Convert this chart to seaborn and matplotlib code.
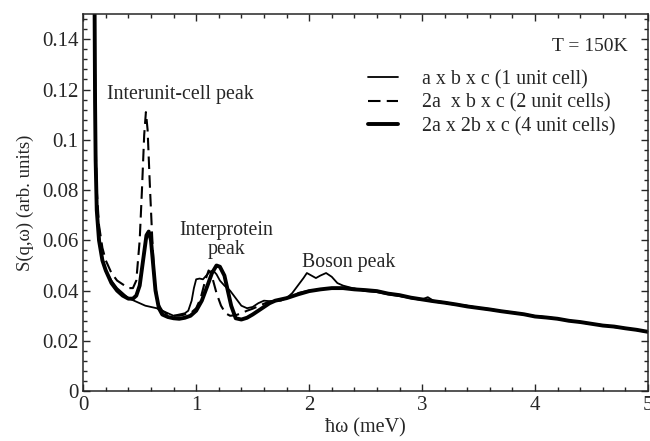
import numpy as np
import pandas as pd
import matplotlib.pyplot as plt
import matplotlib.ticker as mticker
import seaborn as sns

# shared high-energy tail
tail_x = [3.2, 3.3, 3.4, 3.5, 3.6, 3.7, 3.8, 3.9, 4.0, 4.1, 4.2, 4.3, 4.4, 4.5, 4.6, 4.7, 4.8, 4.9, 5.0]

# a x b x c (1 unit cell) - thin solid
one_x = [0.10, 0.105, 0.11, 0.12, 0.14, 0.17, 0.20, 0.25, 0.30, 0.35, 0.40, 0.45, 0.50, 0.55,
         0.60, 0.65, 0.70, 0.75, 0.80, 0.85, 0.90, 0.93, 0.96, 0.98, 1.00, 1.03, 1.06, 1.09,
         1.12, 1.15, 1.18, 1.21, 1.25, 1.30, 1.35, 1.40, 1.45, 1.50, 1.55, 1.60, 1.65, 1.70,
         1.75, 1.80, 1.85, 1.90, 1.95, 1.98, 2.02, 2.06, 2.10, 2.15, 2.20, 2.25, 2.30, 2.40,
         2.50, 2.60, 2.70, 2.80, 2.90, 3.00, 3.05, 3.10] + tail_x
one_y = [0.16, 0.12, 0.095, 0.075, 0.062, 0.053, 0.048, 0.044, 0.041, 0.039, 0.037, 0.036,
         0.035, 0.034, 0.0335, 0.033, 0.032, 0.031, 0.030, 0.0305, 0.031, 0.032, 0.036,
         0.041, 0.0445, 0.0448, 0.0445, 0.046, 0.0475, 0.048, 0.0465, 0.044, 0.042, 0.040,
         0.037, 0.034, 0.033, 0.0335, 0.035, 0.036, 0.0358, 0.0358, 0.036, 0.037, 0.039,
         0.042, 0.045, 0.047, 0.046, 0.045, 0.046, 0.047, 0.0455, 0.043, 0.042, 0.0408,
         0.0398, 0.0394, 0.0385, 0.0378, 0.0370, 0.0365, 0.0374, 0.0360,
         0.0354, 0.0346, 0.0340, 0.0332, 0.0327, 0.0319, 0.0314, 0.0307, 0.0299, 0.0295,
         0.0289, 0.0281, 0.0276, 0.0268, 0.0263, 0.0257, 0.0251, 0.0245, 0.0236]

# 2a x b x c (2 unit cells) - dashed
two_x = [0.10, 0.105, 0.11, 0.12, 0.14, 0.17, 0.20, 0.25, 0.30, 0.35, 0.40, 0.44, 0.47, 0.50,
         0.52, 0.54, 0.555, 0.57, 0.59, 0.61, 0.63, 0.66, 0.70, 0.75, 0.80, 0.85, 0.90, 0.95,
         1.00, 1.04, 1.08, 1.11, 1.13, 1.15, 1.18, 1.22, 1.26, 1.30, 1.35, 1.40, 1.45, 1.50,
         1.55, 1.60, 1.65, 1.70, 1.80, 1.90, 2.00, 2.10, 2.20, 2.30, 2.40, 2.50, 2.60, 2.70,
         2.80, 2.90, 3.00, 3.10] + tail_x
two_y = [0.16, 0.125, 0.10, 0.080, 0.066, 0.057, 0.052, 0.047, 0.044, 0.0425, 0.041, 0.041,
         0.044, 0.060, 0.080, 0.102, 0.111, 0.104, 0.082, 0.062, 0.045, 0.035, 0.032, 0.0305,
         0.030, 0.030, 0.0305, 0.031, 0.033, 0.037, 0.044, 0.048, 0.047, 0.044, 0.039, 0.034,
         0.031, 0.030, 0.0302, 0.031, 0.032, 0.0328, 0.0338, 0.0348, 0.0356, 0.036, 0.037,
         0.039, 0.040, 0.0405, 0.041, 0.0408, 0.0408, 0.0400, 0.0398, 0.0390, 0.0380,
         0.0370, 0.0363, 0.0357,
         0.0350, 0.0344, 0.0339, 0.0330, 0.0324, 0.0318, 0.0312, 0.0305, 0.0300, 0.0293,
         0.0287, 0.0281, 0.0274, 0.0267, 0.0262, 0.0255, 0.0250, 0.0243, 0.0235]

# 2a x 2b x c (4 unit cells) - thick solid
four_x = [0.10, 0.105, 0.11, 0.12, 0.14, 0.17, 0.20, 0.25, 0.30, 0.35, 0.40, 0.44, 0.47, 0.50,
          0.53, 0.56, 0.58, 0.60, 0.62, 0.64, 0.67, 0.70, 0.75, 0.80, 0.85, 0.90, 0.95, 1.00,
          1.05, 1.10, 1.14, 1.18, 1.21, 1.25, 1.28, 1.31, 1.35, 1.40, 1.45, 1.50, 1.55, 1.60,
          1.65, 1.70, 1.80, 1.90, 2.00, 2.10, 2.20, 2.30, 2.40, 2.50, 2.60, 2.70, 2.80, 2.90,
          3.00, 3.10] + tail_x
four_y = [0.16, 0.115, 0.092, 0.072, 0.060, 0.052, 0.048, 0.043, 0.040, 0.038, 0.0368, 0.0368,
          0.038, 0.042, 0.052, 0.062, 0.0635, 0.060, 0.050, 0.040, 0.033, 0.0305, 0.0295,
          0.029, 0.0288, 0.0292, 0.030, 0.032, 0.036, 0.042, 0.047, 0.050, 0.0495, 0.046,
          0.040, 0.034, 0.029, 0.0285, 0.0292, 0.0305, 0.032, 0.0335, 0.035, 0.036, 0.037,
          0.0385, 0.0398, 0.0405, 0.041, 0.041, 0.0405, 0.0402, 0.0398, 0.0388, 0.0382,
          0.0372, 0.0365, 0.0358,
          0.0352, 0.0345, 0.0337, 0.0331, 0.0325, 0.0318, 0.0312, 0.0306, 0.0297, 0.0293,
          0.0288, 0.0280, 0.0275, 0.0268, 0.0261, 0.0257, 0.0250, 0.0244, 0.0236]

labels = ["a x b x c (1 unit cell)", "2a  x b x c (2 unit cells)", "2a x 2b x c (4 unit cells)"]

sns.set_style("ticks")
plt.rcParams["font.family"] = ["Liberation Serif", "DejaVu Serif"]

fig = plt.figure(figsize=(6.5, 4.41), dpi=100)
ax = fig.add_axes([0.128, 0.113, 0.869, 0.855])

sns.lineplot(x=one_x, y=one_y, ax=ax, color="black", lw=1.3, sort=False, label=labels[0])
sns.lineplot(x=two_x, y=two_y, ax=ax, color="black", lw=1.5, sort=False, label=labels[1])
ax.lines[-1].set_dashes([6, 3])
sns.lineplot(x=four_x, y=four_y, ax=ax, color="black", lw=2.8, sort=False, label=labels[2])

ax.set_xlim(0, 5)
ax.set_ylim(0, 0.15)
ax.xaxis.set_major_locator(mticker.MultipleLocator(1))
ax.xaxis.set_minor_locator(mticker.MultipleLocator(0.2))
ax.yaxis.set_major_locator(mticker.FixedLocator([0, 0.02, 0.04, 0.06, 0.08, 0.1, 0.12, 0.14]))
ax.yaxis.set_minor_locator(mticker.MultipleLocator(0.004))
ax.yaxis.set_major_formatter(mticker.FuncFormatter(lambda v, p: f"{v:g}"))
ax.tick_params(which="both", direction="in", top=True, right=True, labelsize=15, width=1)
ax.tick_params(which="major", length=5)
ax.tick_params(which="minor", length=3)
for s in ax.spines.values():
    s.set_linewidth(1.1)

ax.set_xlabel("ħω (meV)", fontsize=14.5, labelpad=2)
ax.set_ylabel("S(q,ω) (arb. units)", fontsize=13.5, labelpad=6)

ax.text(4.82, 0.1372, "T = 150K", fontsize=14, ha="right", va="center")
ax.text(0.86, 0.118, "Interunit-cell peak", fontsize=14.3, ha="center", va="center")
ax.text(1.27, 0.060, "Interprotein\npeak", fontsize=14.3, ha="center", va="center",
        linespacing=1.0)
ax.text(2.35, 0.0512, "Boson peak", fontsize=14.3, ha="center", va="center")

ax.legend(loc="upper left", bbox_to_anchor=(0.505, 0.852), frameon=False, fontsize=14.3,
          handlelength=1.5, handletextpad=1.2, labelspacing=0.22, borderpad=0,
          borderaxespad=0)

fig.savefig("out.png", dpi=100)
